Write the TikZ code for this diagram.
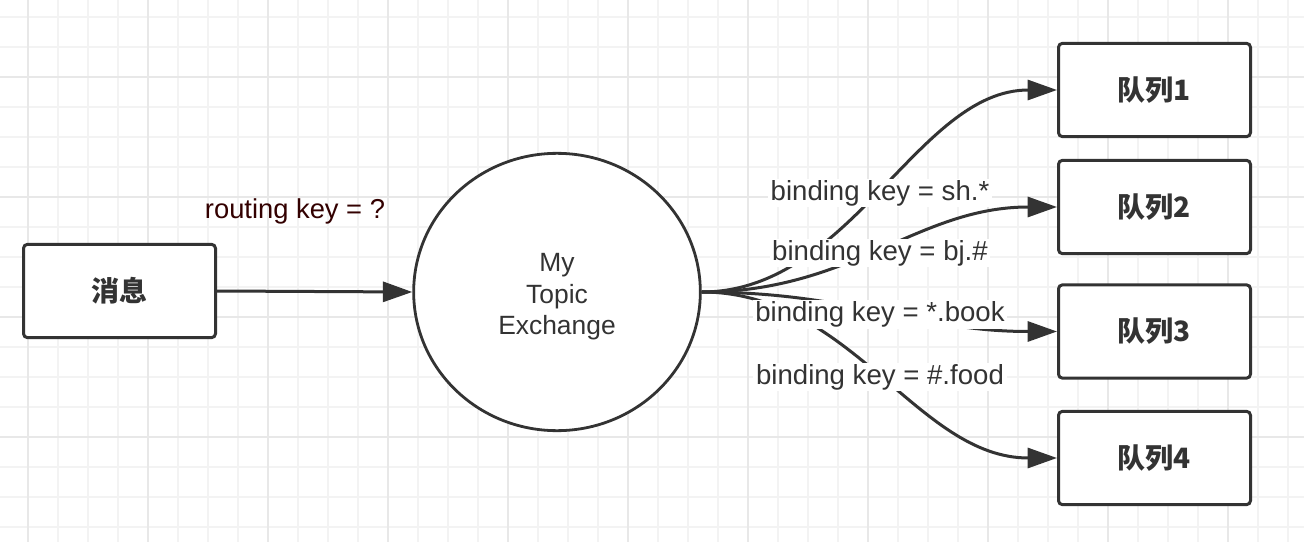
\documentclass[tikz,border=0pt]{standalone}
\usepackage{fontspec}
\setmainfont{Liberation Sans}
\newfontfamily\cjk{Noto Sans CJK SC}
\usepackage{tikz}
\usetikzlibrary{arrows.meta,shapes.geometric}

\definecolor{ink}{HTML}{333333}
\definecolor{gridminor}{HTML}{F3F3F3}
\definecolor{gridmajor}{HTML}{E8E8E8}
\definecolor{keytext}{HTML}{330000}

\tikzset{
  box/.style={draw=ink, line width=2.25pt, fill=white, rounded corners=3pt,
    minimum width=144pt, minimum height=70pt, inner sep=0pt, text=ink,
    font=\cjk\bfseries\fontsize{21}{25}\selectfont},
  exch/.style={ellipse, draw=ink, line width=2.1pt, fill=white,
    minimum width=215pt, minimum height=208pt, inner sep=0pt, text=ink,
    align=center, font=\fontsize{19.8}{23.6}\selectfont},
  flow/.style={draw=ink, line width=2.25pt, -{Triangle[length=22pt,width=15pt]}},
  keylabel/.style={fill=white, text=ink, inner xsep=2pt, inner ysep=1pt,
    anchor=base, font=\fontsize{20.7}{24}\selectfont}
}

\begin{document}
\begin{tikzpicture}[x=0.75pt,y=-0.75pt]
  \useasboundingbox (0,0) rectangle (1304,542);
  \fill[white] (0,0) rectangle (1304,542);

  % background grid
  \foreach \x in {28,58,...,1288}
    \draw[gridminor,line width=1.1pt] (\x,0) -- (\x,542);
  \foreach \y in {17,47,...,527}
    \draw[gridminor,line width=1.1pt] (0,\y) -- (1304,\y);
  \foreach \x in {28,148,...,1228}
    \draw[gridmajor,line width=1.3pt] (\x,0) -- (\x,542);
  \foreach \y in {77,197,317,437}
    \draw[gridmajor,line width=1.3pt] (0,\y) -- (1304,\y);

  \node[box]  (msg) at (119.5,291)  {消息};
  \node[exch] (ex)  at (557,292)    {\rule{0pt}{21pt}My\\Topic\\Exchange};
  \node[box]  (q1)  at (1154.5,90)  {队列1};
  \node[box]  (q2)  at (1154.5,207) {队列2};
  \node[box]  (q3)  at (1154.5,331.5) {队列3};
  \node[box]  (q4)  at (1154.5,458) {队列4};

  \draw[flow] (msg.east) -- (ex.west);
  \draw[flow] (ex.east) .. controls +(150,0) and +(-140,0) .. (q1.west);
  \draw[flow] (ex.east) .. controls +(150,0) and +(-140,0) .. (q2.west);
  \draw[flow] (ex.east) .. controls +(150,0) and +(-140,0) .. (q3.west);
  \draw[flow] (ex.east) .. controls +(150,0) and +(-140,0) .. (q4.west);

  \node[anchor=base,text=keytext,font=\fontsize{20.5}{24}\selectfont] (rk) at (295,219) {routing key = ?};
  \node[keylabel] (k1) at (880,200)   {binding key = sh.*};
  \node[keylabel] (k2) at (880,260)   {binding key = bj.\#};
  \node[keylabel] (k3) at (880,321.5) {binding key = *.book};
  \node[keylabel] (k4) at (880,384)   {binding key = \#.food};
\end{tikzpicture}
\end{document}
